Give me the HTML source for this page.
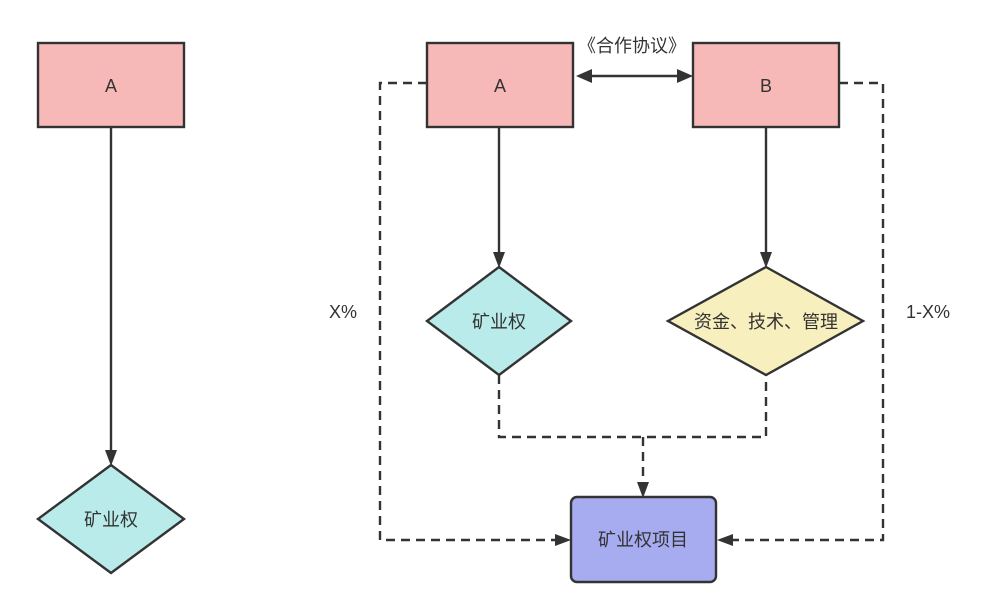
<!DOCTYPE html>
<html><head><meta charset="utf-8"><style>
body{margin:0;background:#fff}
svg text{font-family:"Liberation Sans","Noto Sans CJK SC",sans-serif;fill:#333;text-anchor:middle;dominant-baseline:central}
</style></head><body>
<svg width="984" height="601" viewBox="0 0 984 601" xmlns="http://www.w3.org/2000/svg">
<g stroke="#333" stroke-width="2.4" fill="none">
<line x1="111" y1="127" x2="111" y2="455"/>
<line x1="499" y1="127" x2="499" y2="257"/>
<line x1="766" y1="127" x2="766" y2="257"/>
<line x1="590" y1="76" x2="680" y2="76"/>
<g stroke-dasharray="9,6">
<polyline points="427,83 380,83 380,540 558,540"/>
<polyline points="839,83 883,83 883,540 733,540"/>
<polyline points="499,375 499,437 766,437 766,375"/>
<line x1="643" y1="437" x2="643" y2="485"/>
</g>
</g>
<g fill="#333">
<polygon points="111,466 105,450 117,450"/>
<polygon points="499,268 493,252 505,252"/>
<polygon points="766,268 760,252 772,252"/>
<polygon points="576,76 592,69 592,83"/>
<polygon points="693,76 677,69 677,83"/>
<polygon points="643,498 637,482 649,482"/>
<polygon points="571,540 555,534 555,546"/>
<polygon points="717,540 733,534 733,546"/>
</g>
<g stroke="#333" stroke-width="2.4">
<rect x="38" y="43" width="146" height="84" fill="#f7b9b8"/>
<rect x="427" y="43" width="146" height="84" fill="#f7b9b8"/>
<rect x="693" y="43" width="146" height="84" fill="#f7b9b8"/>
<polygon points="111,465 184,519 111,573 38,519" fill="#b8ebe9"/>
<polygon points="499,267 571,321 499,375 427,321" fill="#b8ebe9"/>
<polygon points="766,267 863,321 766,375 668,321" fill="#f7efbe"/>
<rect x="571" y="497" width="145" height="85" rx="6" fill="#a7acf0"/>
</g>
<g font-size="18">
<text x="111" y="86">A</text>
<text x="500" y="86">A</text>
<text x="766" y="86">B</text>
<text x="111" y="520">矿业权</text>
<text x="499" y="322">矿业权</text>
<text x="766" y="322">资金、技术、管理</text>
<text x="643" y="540">矿业权项目</text>
<text x="632" y="46">《合作协议》</text>
<text x="343" y="312">X%</text>
<text x="928" y="312">1-X%</text>
</g>
</svg>
</body></html>
